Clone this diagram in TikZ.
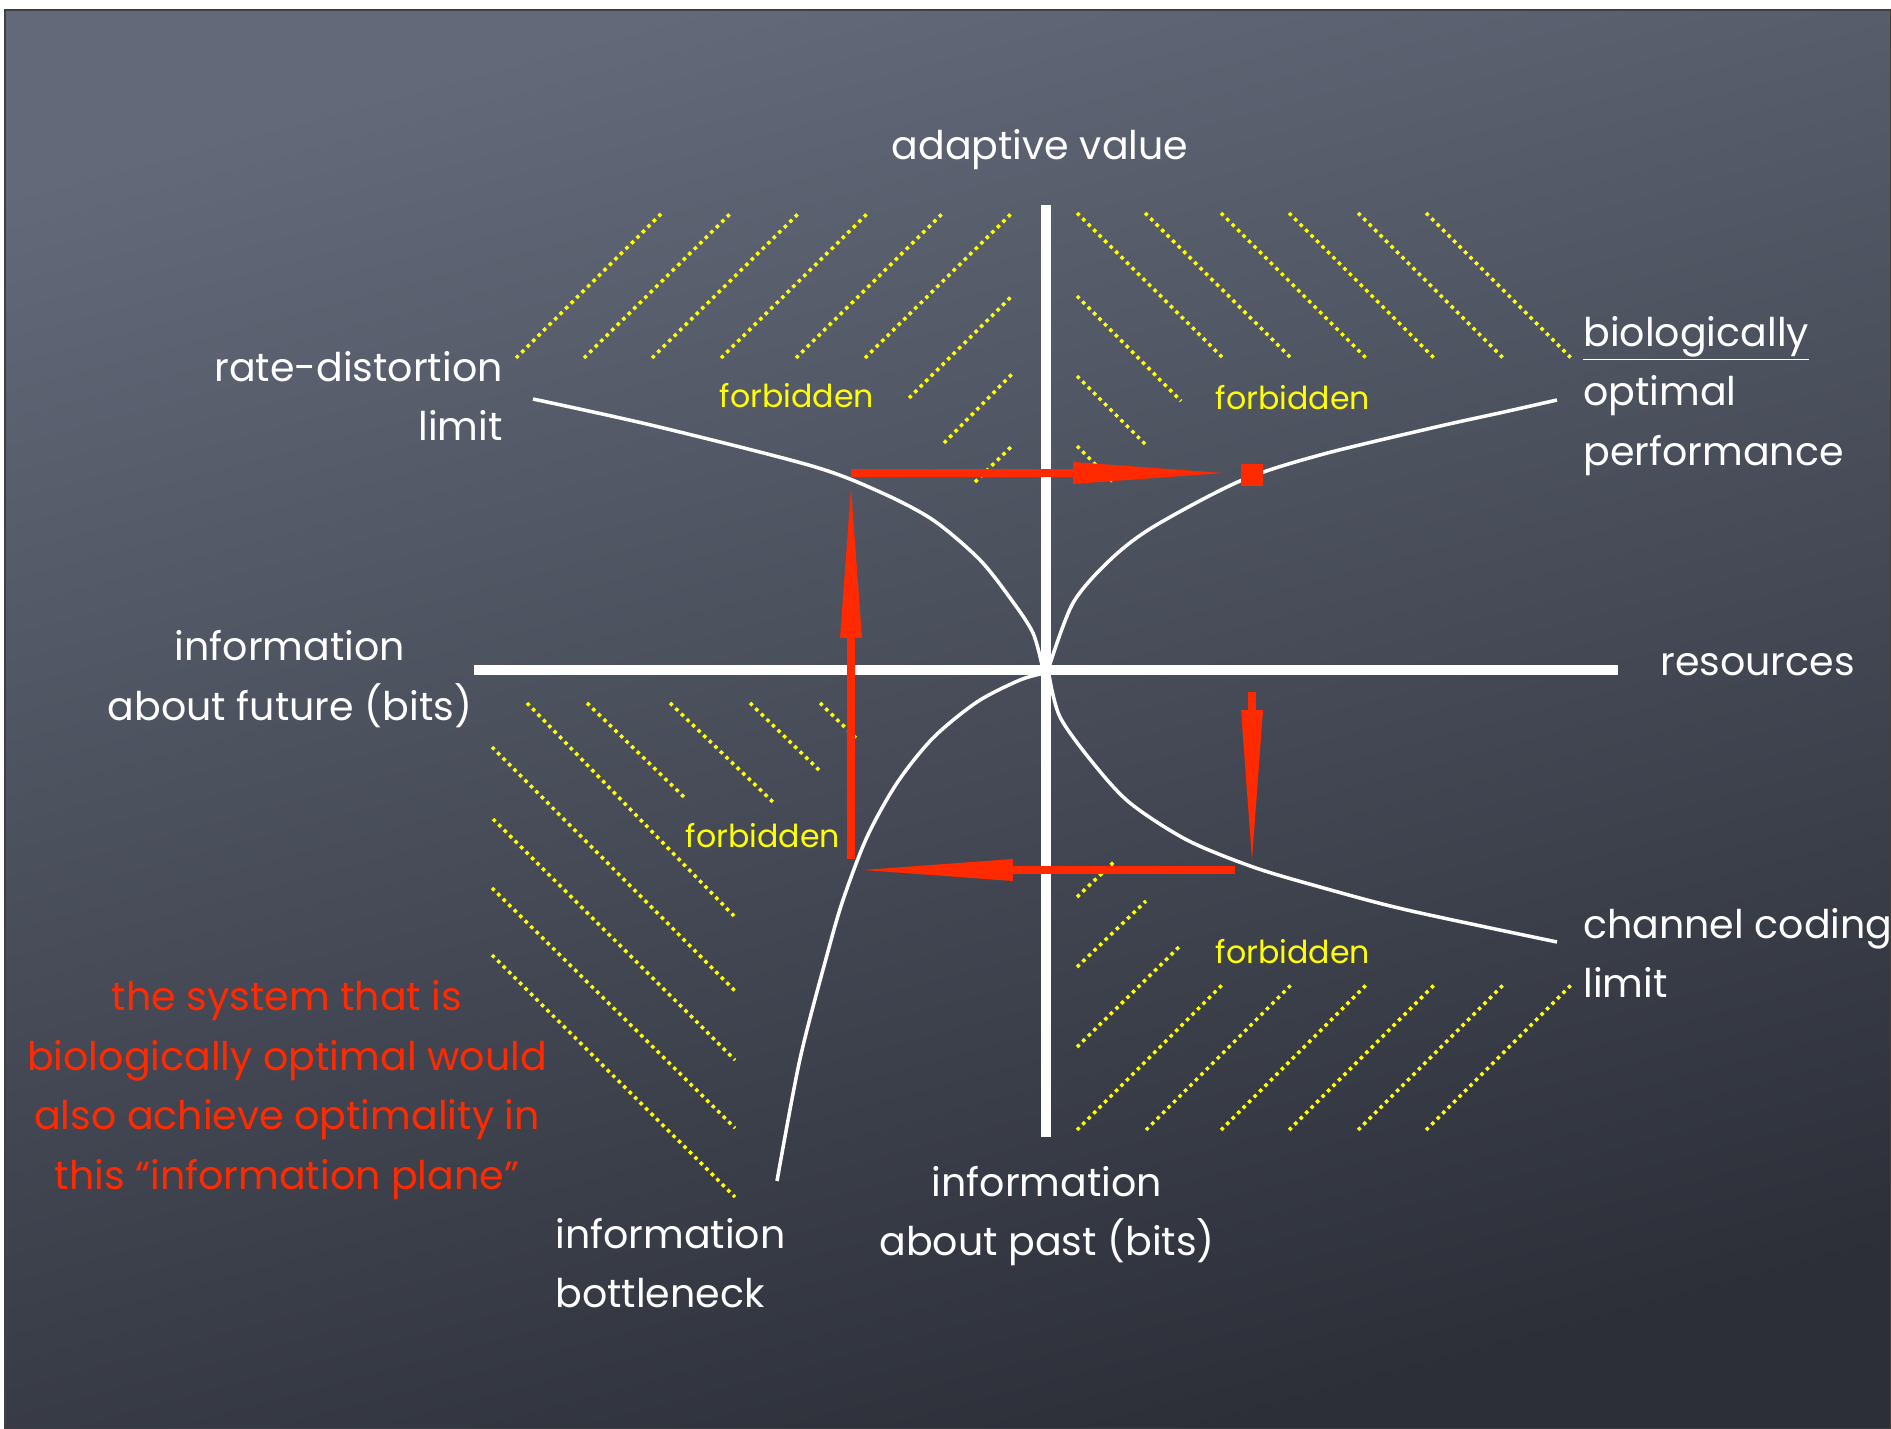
\documentclass[tikz,border=0pt]{standalone}
\usepackage{fontspec}
\setmainfont{Poppins}
\usetikzlibrary{arrows.meta}
\definecolor{boardLight}{HTML}{636979}
\definecolor{boardDark}{HTML}{2C2F38}
\definecolor{chalkRed}{HTML}{FF2A00}
\definecolor{chalkYellow}{HTML}{FFFF00}

\begin{document}
\begin{tikzpicture}[x=0.02cm, y=-0.02cm,
    ipAxis/.style={draw=white, line width=5.6pt},
    ipCurve/.style={draw=white, line width=2pt},
    ipHatch/.style={draw=chalkYellow, line width=2pt, dash pattern=on 2pt off 2.4pt},
    ipArrow/.style={draw=chalkRed, line width=5pt, -{Triangle[length=3cm, width=0.44cm, line width=0pt]}},
    ipLabel/.style={text=white, inner sep=0pt, font=\fontsize{22.5}{34}\selectfont},
    ipForbidden/.style={text=chalkYellow, inner sep=0pt, font=\fontsize{18}{20}\selectfont},
    ipNote/.style={text=chalkRed, inner sep=0pt, align=center, font=\fontsize{22.5}{34}\selectfont},
]
% board
\useasboundingbox (0,0) rectangle (1891,1429);
\fill[white] (0,0) rectangle (1891,1429);
\shade[top color=boardLight, bottom color=boardDark, shading angle=15] (5,10) rectangle (1891,1429);
\draw[black!75, line width=0.6pt] (5,10) rectangle (1891,1429);

% forbidden hatching
\foreach \xa/\ya/\xb/\yb in {516/358/663/212, 584/358/732/212, 652/358/800/212, 721/358/869/212, 796/358/944/212, 865/358/1013/212, 909/398/1013/295, 944/443/1013/373, 975/482/1013/445}
  \draw[ipHatch] (\xa,\ya) -- (\xb,\yb);
\foreach \xa/\ya/\xb/\yb in {1077/213/1225/360, 1145/213/1293/360, 1221/213/1368/360, 1289/213/1436/360, 1358/213/1505/360, 1426/213/1573/360, 1077/296/1181/401, 1077/376/1146/445, 1077/446/1114/483}
  \draw[ipHatch] (\xa,\ya) -- (\xb,\yb);
\foreach \xa/\ya/\xb/\yb in {527/703/734/916, 587/703/684/797, 670/703/773/802, 750/703/819/770, 820/703/858/740, 492/747/737/993, 493/819/735/1060, 492/888/735/1128, 492/955/735/1197}
  \draw[ipHatch] (\xa,\ya) -- (\xb,\yb);
\foreach \xa/\ya/\xb/\yb in {1077/897/1115/861, 1077/967/1146/901, 1077/1047/1179/947, 1077/1130/1224/983, 1146/1130/1293/983, 1221/1130/1368/983, 1289/1130/1436/983, 1358/1130/1505/983, 1426/1130/1573/983}
  \draw[ipHatch] (\xa,\ya) -- (\xb,\yb);

% axes
\coordinate (O) at (1047,670);
\draw[ipAxis] (474,670) -- (1618,670);
\draw[ipAxis] (1046,205) -- (1046,1137);

% limit curves
\draw[ipCurve] plot[smooth] coordinates {(533,399) (655,426) (812,466) (880,492) (933,520) (980,560) (1013,602) (1033,633) (1042,665)};
\draw[ipCurve] plot[smooth] coordinates {(1049,667) (1073,603) (1110,560) (1153,527) (1240,481) (1320,455) (1436,427) (1504,412) (1557,400)};
\draw[ipCurve] plot[smooth] coordinates {(1049,675) (1060,717) (1093,763) (1130,803) (1187,840) (1253,867) (1320,887) (1407,910) (1557,942)};
\draw[ipCurve] plot[smooth] coordinates {(1045,673) (1020,680) (977,702) (933,738) (897,783) (867,837) (843,900) (827,955) (800,1059) (777,1181)};

% labels
\node[ipLabel] (adaptive) at (1040,150) {adaptive value};
\node[ipLabel, anchor=east, align=right] (rateDist) at (503,396) {rate-distortion\\limit};
\node[ipLabel, anchor=west, align=left] (bioOpt) at (1583,396) {\underline{biologically}\\optimal\\performance};
\node[ipLabel, align=center] (future) at (290,679) {information\\about future (bits)};
\node[ipLabel, anchor=west] (resources) at (1660,665) {resources};
\node[ipLabel, anchor=west, align=left] (channel) at (1583,953) {channel coding\\limit};
\node[ipLabel, align=center] (past) at (1047,1216) {information\\about past (bits)};
\node[ipLabel, anchor=west, align=left] (bottleneck) at (555,1263) {information\\bottleneck};
\node[ipNote] (note) at (287,1090) {the system that is\\biologically optimal would\\also achieve optimality in\\this “information plane”};
\node[ipForbidden] (forbUL) at (797,396) {forbidden};
\node[ipForbidden] (forbUR) at (1293,398) {forbidden};
\node[ipForbidden] (forbLL) at (763,836) {forbidden};
\node[ipForbidden] (forbLR) at (1293,952) {forbidden};

% path round the information plane
\coordinate (ibLow) at (851,859);
\coordinate (ibTop) at (851,488);
\coordinate (rdLeft) at (851,473);
\coordinate (rdTip) at (1223,473);
\node[fill=chalkRed, minimum size=0.44cm, inner sep=0pt] (optSq) at (1252,475) {};
\coordinate (ccTop) at (1252,692);
\coordinate (ccTip) at (1252,860);
\coordinate (ccRight) at (1235,870);
\coordinate (ibTip) at (863,870);
\draw[ipArrow] (ibLow) -- (ibTop);
\draw[ipArrow] (rdLeft) -- (rdTip);
\draw[ipArrow] (ccTop) -- (ccTip);
\draw[ipArrow] (ccRight) -- (ibTip);
\end{tikzpicture}
\end{document}
